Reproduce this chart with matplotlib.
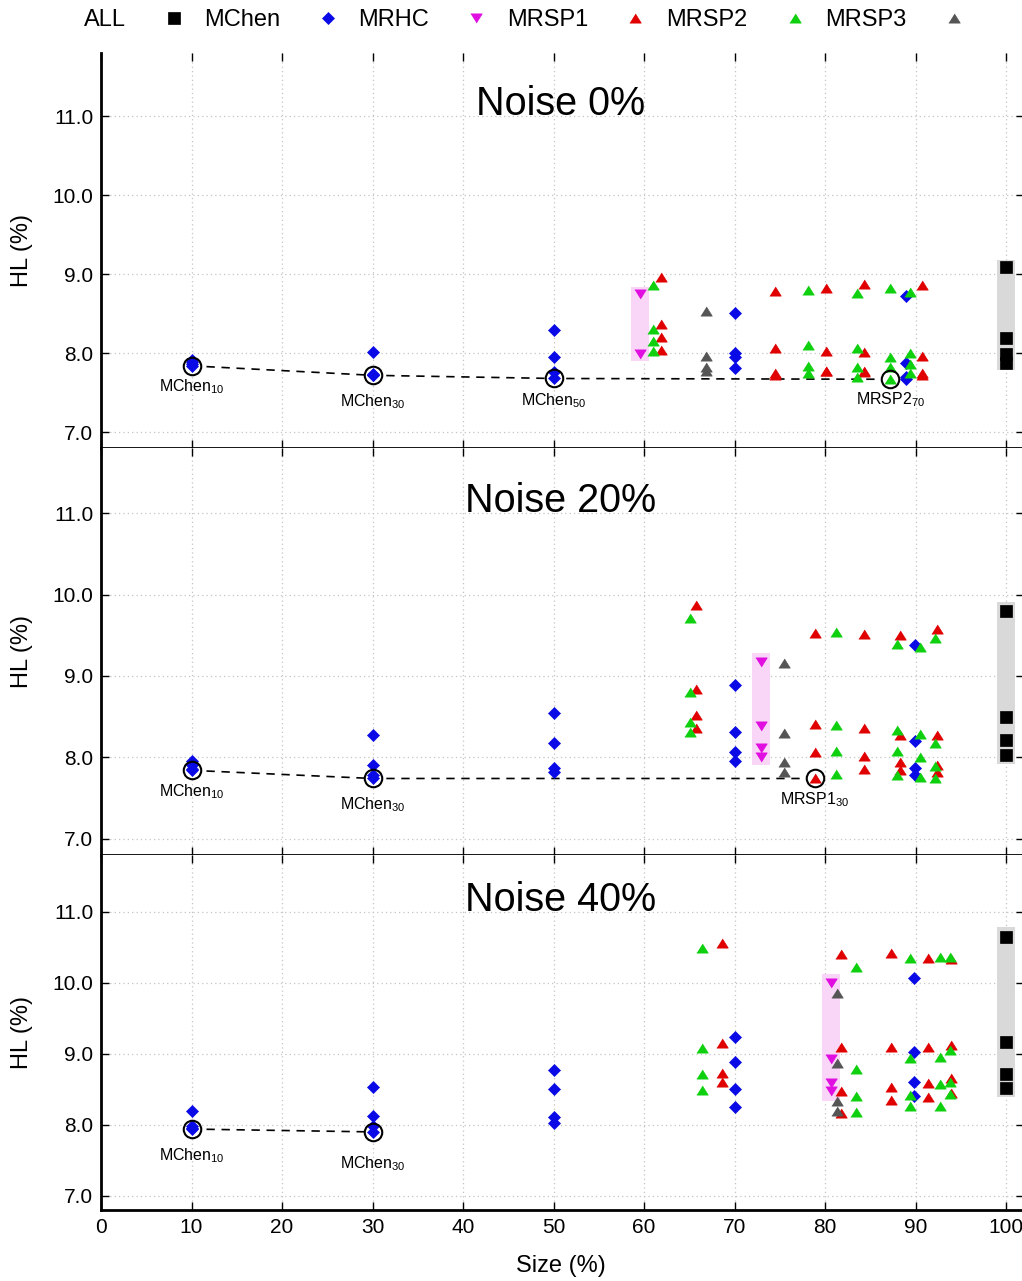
import matplotlib
matplotlib.use("Agg")
import matplotlib.pyplot as plt
from matplotlib.lines import Line2D
from matplotlib.patches import Rectangle
from matplotlib.ticker import FormatStrFormatter

plt.rcParams['font.family'] = ['Liberation Sans', 'DejaVu Sans']
plt.rcParams['mathtext.fontset'] = 'custom'
plt.rcParams['mathtext.rm'] = 'Liberation Sans'
plt.rcParams['mathtext.it'] = 'Liberation Sans:italic'
plt.rcParams['mathtext.bf'] = 'Liberation Sans:bold'

# ---------------- data ----------------
noise_titles = ["Noise 0%", "Noise 20%", "Noise 40%"]
series_names = ["ALL", "MChen", "MRHC", "MRSP1", "MRSP2", "MRSP3"]
x_ticks = [0, 10, 20, 30, 40, 50, 60, 70, 80, 90, 100]
y_ticks = [7.0, 8.0, 9.0, 10.0, 11.0]

# ALL (size 100%)
all_size = [100, 100, 100]
all_hl = [[9.09, 8.19, 7.99, 7.88],
          [9.80, 8.50, 8.21, 8.03],
          [10.65, 9.17, 8.71, 8.52]]

# MChen
mchen_size = [[10, 30, 50, 70, 88.9],
              [10, 30, 50, 70, 89.9],
              [10, 30, 50, 70, 89.8]]
mchen_hl = [[[7.92, 7.89, 7.86, 7.84], [8.01, 7.74, 7.73, 7.72], [8.29, 7.95, 7.76, 7.68],
             [8.51, 8.00, 7.95, 7.81], [8.73, 7.87, 7.70, 7.67]],
            [[7.95, 7.91, 7.86, 7.84], [8.27, 7.91, 7.78, 7.74], [8.55, 8.18, 7.87, 7.82],
             [8.89, 8.31, 8.06, 7.95], [9.38, 8.20, 7.87, 7.78]],
            [[8.19, 7.99, 7.96, 7.94], [8.53, 8.13, 7.99, 7.90], [8.77, 8.51, 8.11, 8.03],
             [9.24, 8.88, 8.51, 8.25], [10.07, 9.03, 8.60, 8.40]]]

# MRHC
mrhc_size = [59.56, 72.95, 80.70]
mrhc_hl = [[8.75, 7.99],
           [9.17, 8.39, 8.12, 8.01],
           [10.00, 8.93, 8.59, 8.47]]

# MRSP1
mrsp1_size = [[61.85, 74.46, 80.11, 84.35, 90.74],
              [65.72, 78.89, 84.28, 88.30, 92.36],
              [68.60, 81.73, 87.27, 91.40, 93.87]]
mrsp1_hl = [[[8.97, 8.37, 8.21, 8.04], [8.79, 8.07, 7.75, 7.72], [8.82, 8.03, 7.78, 7.77],
             [8.88, 8.02, 7.78, 7.76], [8.86, 7.97, 7.75, 7.73]],
            [[9.87, 8.84, 8.52, 8.36], [9.53, 8.41, 8.06, 7.74], [9.52, 8.36, 8.02, 7.86],
             [9.50, 8.27, 7.94, 7.84], [9.58, 8.28, 7.91, 7.82]],
            [[10.56, 9.15, 8.73, 8.60], [10.40, 9.09, 8.48, 8.17], [10.42, 9.10, 8.53, 8.35],
             [10.35, 9.10, 8.59, 8.39], [10.33, 9.13, 8.66, 8.45]]]

# MRSP2
mrsp2_size = [[61.03, 78.08, 83.54, 87.23, 89.34],
              [65.09, 81.22, 87.93, 90.52, 92.18],
              [66.42, 83.47, 89.37, 92.69, 93.80]]
mrsp2_hl = [[[8.86, 8.30, 8.15, 8.03], [8.80, 8.11, 7.84, 7.75], [8.76, 8.06, 7.82, 7.70],
             [8.82, 7.95, 7.82, 7.67], [8.78, 8.00, 7.86, 7.75]],
            [[9.71, 8.80, 8.43, 8.31], [9.54, 8.40, 8.08, 7.80], [9.39, 8.33, 8.08, 7.78],
             [9.36, 8.29, 8.00, 7.76], [9.47, 8.18, 7.89, 7.74]],
            [[10.49, 9.08, 8.72, 8.49], [10.22, 8.79, 8.41, 8.18], [10.35, 8.94, 8.42, 8.27],
             [10.37, 8.95, 8.57, 8.27], [10.37, 9.06, 8.60, 8.44]]]

# MRSP3
mrsp3_size = [66.83, 75.50, 81.37]
mrsp3_hl = [[8.54, 7.97, 7.82, 7.78],
            [9.16, 8.30, 7.94, 7.82],
            [9.86, 8.87, 8.33, 8.19]]

# Pareto front (circled, connected)
pareto_size = [[10, 30, 50, 87.23], [10, 30, 78.89], [10, 30]]
pareto_hl = [[7.84, 7.72, 7.68, 7.67], [7.84, 7.74, 7.74], [7.94, 7.90]]
pareto_names = [["MChen", "MChen", "MChen", "MRSP2"], ["MChen", "MChen", "MRSP1"], ["MChen", "MChen"]]
pareto_subs = [["10", "30", "50", "70"], ["10", "30", "30"], ["10", "30"]]

# ---------------- style ----------------
W, H = 1022, 1281
DPI = 100
PX = 72.0 / DPI  # points per pixel
colors = {"ALL": "#000000", "MChen": "#0a0ae6", "MRHC": "#e00ee0",
          "MRSP1": "#e00000", "MRSP2": "#0fd00f", "MRSP3": "#555555"}
tri_up = [(-1, -0.8), (1, -0.8), (0, 0.8)]
tri_dn = [(-1, 0.8), (1, 0.8), (0, -0.8)]
markers = {"ALL": ("s", 12 * PX), "MChen": ("D", 8.0 * PX), "MRHC": (tri_dn, 11.5 * PX),
           "MRSP1": (tri_up, 11.5 * PX), "MRSP2": (tri_up, 11.5 * PX), "MRSP3": (tri_up, 11.5 * PX)}
panel_px = [(53, 448), (448, 855), (855, 1210)]
rect_pad = [0.09, 0.11, 0.13]
label_drop_px = [[11, 17, 13, 11], [12, 17, 12], [17, 22]]
x_left_px, x_per_unit = 101, 9.05
xlim = (0, 102)
ylim = (6.8, 11.8)


def expand(sizes, hls):
    xs, ys = [], []
    for s, vals in zip(sizes, hls):
        for v in vals:
            xs.append(s)
            ys.append(v)
    return xs, ys


fig = plt.figure(figsize=(W / DPI, H / DPI), dpi=DPI)
axes = []
for i, (top, bot) in enumerate(panel_px):
    ax = fig.add_axes([x_left_px / W, 1 - bot / H,
                       (xlim[1] - xlim[0]) * x_per_unit / W, (bot - top) / H])
    axes.append(ax)
    ax.set_xlim(*xlim)
    ax.set_ylim(*ylim)
    ax.set_xticks(x_ticks)
    ax.set_yticks(y_ticks)
    ax.yaxis.set_major_formatter(FormatStrFormatter('%.1f'))
    ax.grid(True, color='#c4c4c4', linestyle=(0, (1, 2.5)), linewidth=0.9)
    ax.set_axisbelow(True)
    ax.tick_params(direction='in', length=6, width=1.0, top=True, right=True,
                   labelsize=15, pad=5.5, labelbottom=(i == 2))
    for s in ['top', 'right']:
        ax.spines[s].set_visible(False)
    for s in ['left', 'bottom']:
        ax.spines[s].set_linewidth(2)
    ax.text(-0.0856, 0.5, "HL (%)", transform=ax.transAxes, rotation=90,
            ha='center', va='center', fontsize=17)
    ax.text(0.498, 0.842, noise_titles[i], transform=ax.transAxes,
            ha='center', va='baseline', fontsize=28.5)

    # range rectangles
    a_vals = all_hl[i]
    ax.add_patch(Rectangle((all_size[i] - 1, min(a_vals) - rect_pad[i]), 2,
                           max(a_vals) - min(a_vals) + 2 * rect_pad[i],
                           facecolor='#d9d9d9', edgecolor='none', zorder=1.5))
    m_vals = mrhc_hl[i]
    ax.add_patch(Rectangle((mrhc_size[i] - 1, min(m_vals) - rect_pad[i]), 2,
                           max(m_vals) - min(m_vals) + 2 * rect_pad[i],
                           facecolor='#f9d6f7', edgecolor='none', zorder=1.5))

    # pareto dashed line and white circle bodies
    ax.plot(pareto_size[i], pareto_hl[i], color='black', linestyle=(0, (5, 4)),
            linewidth=1.2, zorder=2)
    ax.plot(pareto_size[i], pareto_hl[i], linestyle='none', marker='o',
            markersize=17.5 * PX, markerfacecolor='white', markeredgecolor='none', zorder=2.5)

    data = {
        "ALL": ([all_size[i]] * len(all_hl[i]), all_hl[i]),
        "MChen": expand(mchen_size[i], mchen_hl[i]),
        "MRHC": ([mrhc_size[i]] * len(mrhc_hl[i]), mrhc_hl[i]),
        "MRSP1": expand(mrsp1_size[i], mrsp1_hl[i]),
        "MRSP2": expand(mrsp2_size[i], mrsp2_hl[i]),
        "MRSP3": ([mrsp3_size[i]] * len(mrsp3_hl[i]), mrsp3_hl[i]),
    }
    for k, name in enumerate(series_names):
        xs, ys = data[name]
        mk, ms = markers[name]
        ax.plot(xs, ys, linestyle='none', marker=mk, markersize=ms,
                color=colors[name], markeredgecolor=colors[name],
                markeredgewidth=0.5, zorder=3 + k * 0.1)

    # circle outlines and labels
    ax.plot(pareto_size[i], pareto_hl[i], linestyle='none', marker='o',
            markersize=17.5 * PX, markerfacecolor='none', markeredgecolor='black',
            markeredgewidth=1.5, zorder=5)
    for j, (sx, sy) in enumerate(zip(pareto_size[i], pareto_hl[i])):
        ax.annotate(pareto_names[i][j] + r"$_{" + pareto_subs[i][j] + "}$",
                    xy=(sx, sy), xytext=(0, -label_drop_px[i][j] * PX),
                    textcoords='offset points', ha='center', va='top', fontsize=11.5)

fig.text(561 / W, 1 - 1266 / H, "Size (%)", ha='center', va='center', fontsize=17)

handles = []
for name in series_names:
    mk, ms = markers[name]
    handles.append(Line2D([], [], linestyle='none', marker=mk, markersize=ms,
                          color=colors[name], markeredgecolor=colors[name],
                          markeredgewidth=0.5))
fig.legend(handles, series_names, loc='center', bbox_to_anchor=(525 / W, 1 - 20 / H),
           ncol=6, frameon=False, markerfirst=False, fontsize=17,
           handlelength=1.0, handletextpad=1.5, columnspacing=0.8)

fig.savefig("out.png", dpi=DPI)
